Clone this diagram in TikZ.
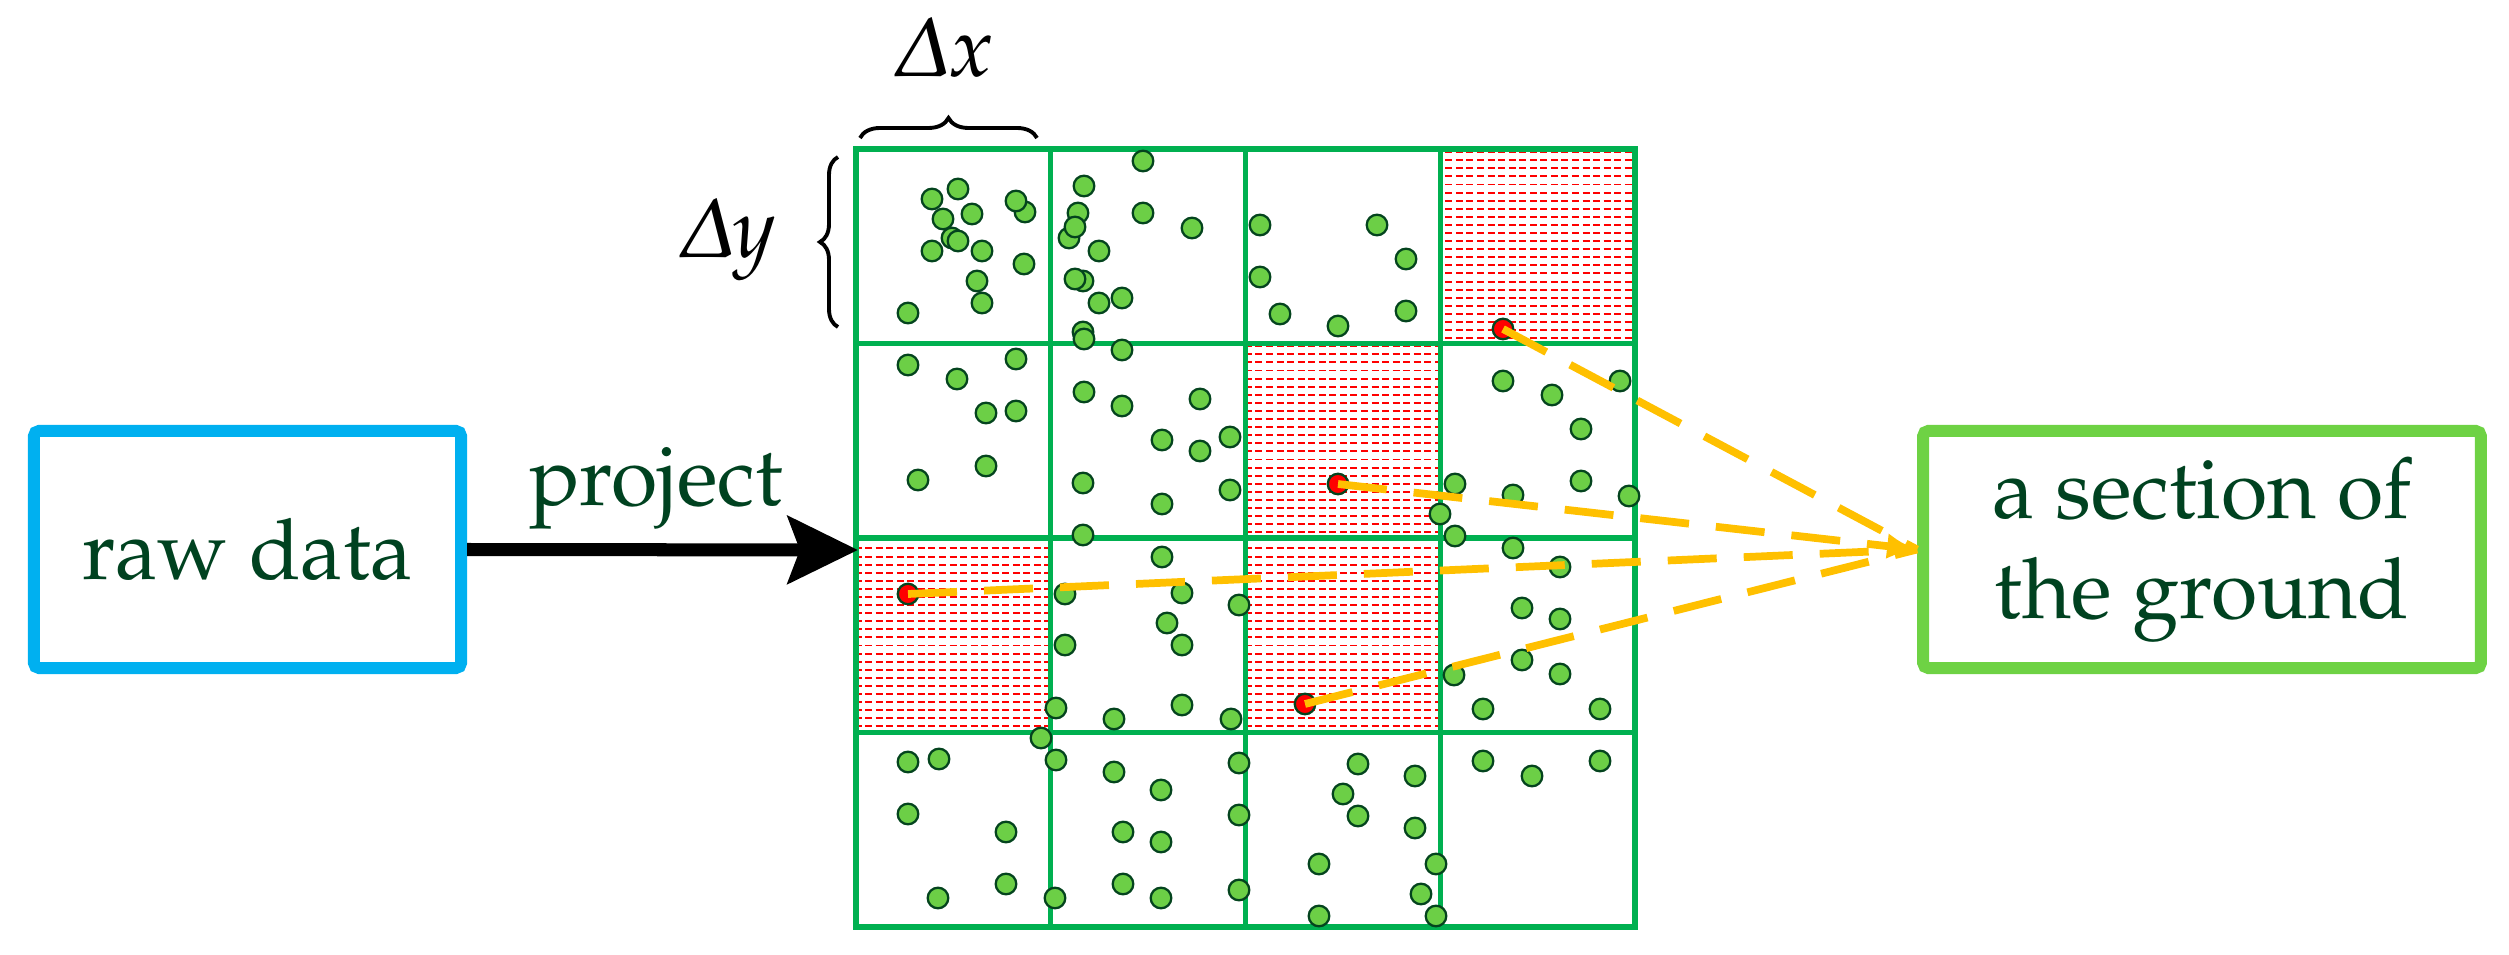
\documentclass[tikz,border=0pt]{standalone}
\usepackage[T1]{fontenc}
\usepackage[slantedGreek]{mathpazo}
\usetikzlibrary{arrows.meta,decorations.pathreplacing,patterns}
\definecolor{cellgreen}{RGB}{0,176,80}
\definecolor{dotfill}{RGB}{108,207,70}
\definecolor{dotline}{RGB}{4,68,30}
\definecolor{txtgreen}{RGB}{0,66,32}
\definecolor{rawblue}{RGB}{0,176,240}
\definecolor{boxgreen}{RGB}{110,210,68}
\definecolor{pathyellow}{RGB}{255,192,0}
\pgfdeclarepatternformonly{redrows}{\pgfpoint{-0.1pt}{-0.1pt}}{\pgfpoint{3pt}{2.3pt}}{\pgfpoint{3pt}{2.3pt}}{%
  \pgfsetlinewidth{0.55pt}%
  \pgfpathmoveto{\pgfpoint{0pt}{0.6pt}}\pgfpathlineto{\pgfpoint{2pt}{0.6pt}}\pgfusepath{stroke}}
\begin{document}
\begin{tikzpicture}[x=0.01cm,y=-0.01cm,
        font=\fontsize{24}{28.5}\selectfont,
        dot/.style={draw=dotline,fill=dotfill,line width=0.65pt},
        redpt/.style={circle,draw=dotline,fill=red,line width=0.65pt,
            minimum size=0.205cm,inner sep=0pt},
        cell/.style={pattern=redrows,pattern color=red},
        box/.style={rounded corners=1.5pt,line width=3.4pt,minimum height=2.37cm,
            text=txtgreen,align=center},
        trace/.style={pathyellow,line width=2.2pt,dash pattern=on 0.49cm off 0.27cm}]
\useasboundingbox (0,0) rectangle (2509,955);

% marked cells
\foreach \cx/\cy in {1440/149,1245/343.5,856/538,1245/538}
    \fill[cell] (\cx,\cy) rectangle ++(194.75,194.5);

\foreach \i in {0,...,4} {
    \draw[cellgreen,line width=1.5pt,line cap=rect] (856+194.75*\i,149) -- (856+194.75*\i,927);
    \draw[cellgreen,line width=1.5pt,line cap=rect] (856,149+194.5*\i) -- (1635,149+194.5*\i);
}

% points
\foreach \a/\b in {932/199,958/189,943/219,972/214,1025/212,1016/201,952/238,958/241,932/251,
        982/251,1024/264,977/281,982/303,908/313,
        1143/161,1084/186,1078/213,1069/238,1075/227,1143/213,1192/228,1099/251,1083/281,
        1075/279,1099/303,1122/298,1083/332,1084/339,1122/350,
        908/365,957/379,1016/359,986/413,1016/411,986/466,918/480,
        1084/392,1122/406,1200/399,1162/440,1200/451,1230/437,1230/490,1083/483,1162/504,1083/535,
        1260/225,1377/225,1406/259,1260/277,1280/314,1338/326,1406/311,
        1503/381,1552/395,1620/381,1581/429,1581/481,1629/496,1455/484,1513/495,1440/514,1455/536,
        1162/557,1065/594,1182/593,1239/605,1167/623,1065/645,1182/645,1056/708,1182/705,
        1114/719,1231/719,
        1513/548,1560/567,1522/608,1560/619,1454/675,1522/660,1560/674,1483/709,1600/709,
        1041/738,1056/760,908/762,939/759,908/814,1006/832,1006/884,938/898,1055/898,
        1114/772,1161/790,1239/763,1123/832,1161/842,1239/815,1123/884,1161/898,1239/890,
        1358/764,1415/776,1343/794,1358/816,1415/828,1319/864,1436/864,1421/894,1319/916,1436/916,
        1483/761,1532/776,1600/761}
    \draw[dot] (\a,\b) circle[radius=0.103cm];

\node[redpt] (pA) at (1503,329) {};
\node[redpt] (pB) at (1338,484) {};
\node[redpt] (pC) at (908,594) {};
\node[redpt] (pD) at (1305,704) {};

\node[box,draw=rawblue,minimum width=4.27cm] (rawdata) at (247.5,549.5) {raw data};
\node[box,draw=boxgreen,minimum width=5.575cm] (section) at (2202,549.5) {a section of\\the ground};

\coordinate (gridW) at (858,550);
\draw[line width=3.7pt,-{Stealth[length=0.7cm,width=0.67cm,inset=0.12cm]}] (rawdata.east) -- (gridW);
\node[text=txtgreen,anchor=base] (projlabel) at (656,505) {project};

\draw[trace] (pA.center) -- (section.west);
\draw[trace,-{Latex[length=0.3cm,width=0.26cm]}] (pB.center) -- (section.west);
\draw[trace] (pC.center) -- (section.west);
\draw[trace] (pD.center) -- (section.west);

% cell size
\draw[line width=1.1pt,decorate,decoration={brace,amplitude=0.2cm}] (860,138) -- (1037,138);
\node[anchor=base,inner sep=0pt] (dxlabel) at (944,77) {$\Delta x$};
\draw[line width=1.1pt,decorate,decoration={brace,amplitude=0.18cm}] (838,327) -- (838,157);
\node[anchor=base,inner sep=0pt] (dylabel) at (728,258) {$\Delta y$};
\end{tikzpicture}
\end{document}
